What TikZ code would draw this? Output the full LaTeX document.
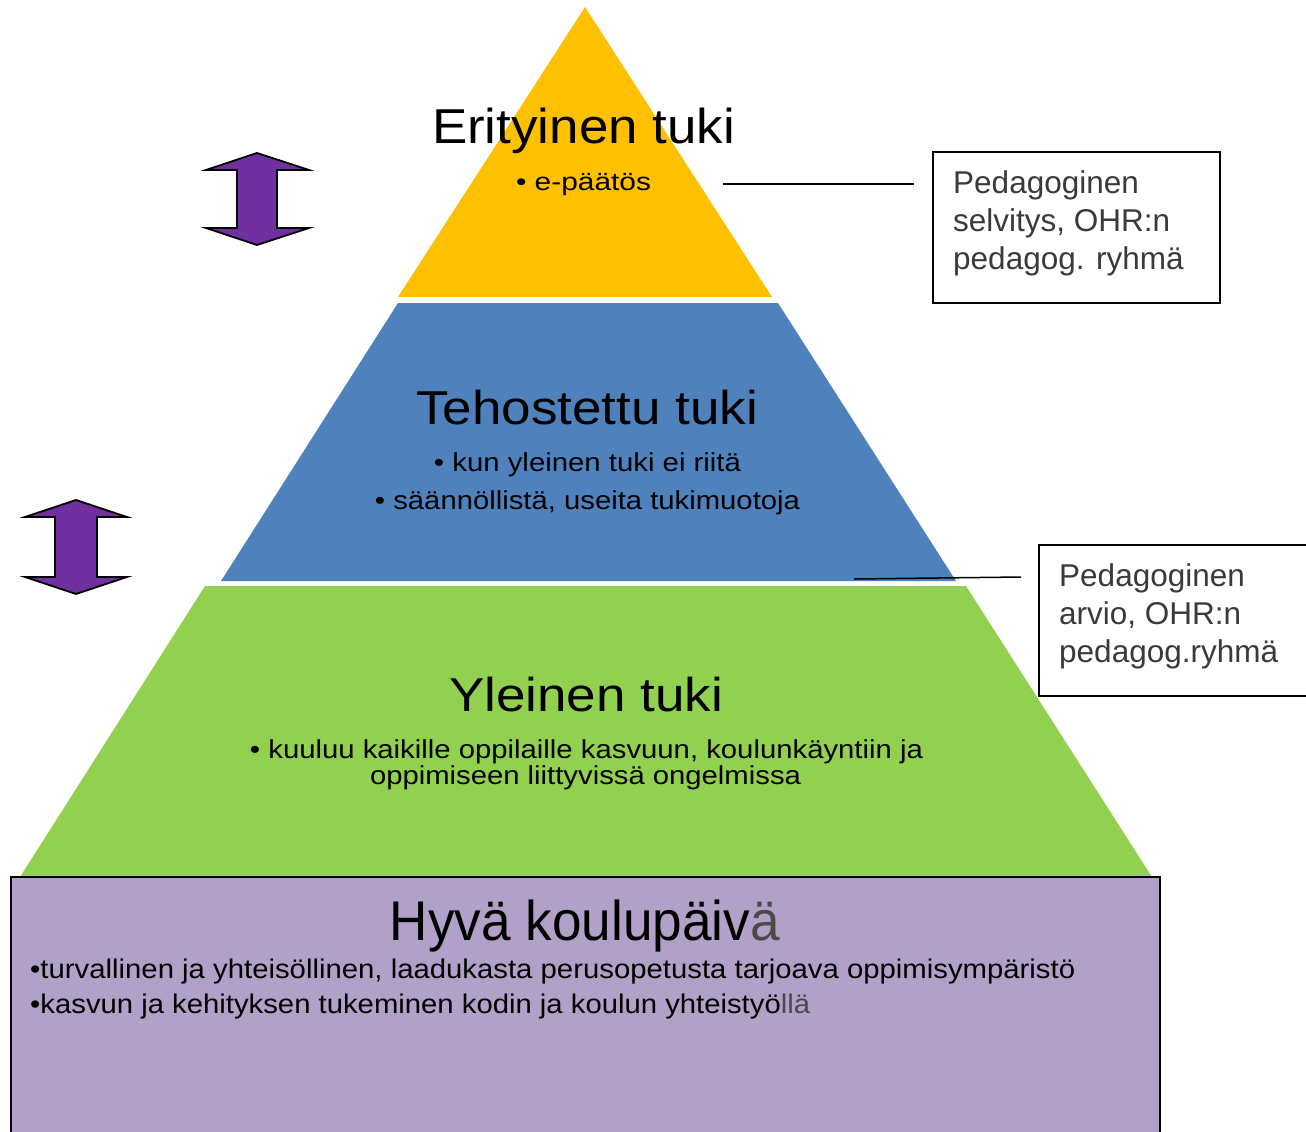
\documentclass[tikz,border=0pt]{standalone}
\usepackage{fontspec}
\setmainfont{Liberation Sans}
\usepackage{graphicx}
\definecolor{tieryellow}{HTML}{FFC000}
\definecolor{tierblue}{HTML}{4F81BD}
\definecolor{tiergreen}{HTML}{92D050}
\definecolor{baselav}{HTML}{B1A0C7}
\definecolor{arrowpurple}{HTML}{7030A0}
\definecolor{boxgray}{HTML}{3A3A3A}
\definecolor{softgray}{HTML}{4A4A4A}
\newcommand\fitw[3]{\resizebox{#1pt}{\height}{\fontsize{#2pt}{#2pt}\selectfont #3}}
\tikzset{
  tier/.style={draw=none},
  lbl/.style={inner sep=0pt, anchor=base, text=black},
  lblleft/.style={inner sep=0pt, anchor=base west, text=black},
  sidebox/.style={draw=black, line width=1.5pt, fill=white, inner sep=0pt},
  sidetext/.style={inner sep=0pt, anchor=base west, text=boxgray, font=\fontsize{31.5pt}{38pt}\selectfont},
  dblarrow/.style={fill=arrowpurple, draw=black, line width=1.8pt, line join=miter},
  leader/.style={draw=black, line width=1.5pt},
}
\begin{document}
\begin{tikzpicture}[x=1pt,y=-1pt]
\useasboundingbox (0,0) rectangle (1306,1132);
% tiers
\fill[tieryellow] (585,7) -- (772,297) -- (398,297) -- cycle;
\fill[tierblue] (398,303) -- (778,303) -- (956,581) -- (221,581) -- cycle;
\fill[tiergreen] (205,586) -- (966,586) -- (1152,877) -- (20,877) -- cycle;
\fill[baselav] (11,877) rectangle (1160,1132);
\draw[line width=1.5pt] (11,1134) -- (11,877) -- (1160,877) -- (1160,1134);
% titles
\node[lbl] (t1) at (583.5,143) {\fitw{303}{49}{Erityinen tuki}};
\node[lbl] (b1) at (583.5,190) {\fitw{135}{25}{\textbullet\ e-päätös}};
\node[lbl] (t2) at (587,424) {\fitw{342}{47.5}{Tehostettu tuki}};
\node[lbl] (b2) at (587.5,471) {\fitw{307}{26}{\textbullet\ kun yleinen tuki ei riitä}};
\node[lbl] (b3) at (587.5,509) {\fitw{425}{26}{\textbullet\ säännöllistä, useita tukimuotoja}};
\node[lbl] (t3) at (586,711) {\fitw{274}{47.5}{Yleinen tuki}};
\node[lbl] (b4) at (586.5,758) {\fitw{673}{26}{\textbullet\ kuuluu kaikille oppilaille kasvuun, koulunkäyntiin ja}};
\node[lbl] (b5) at (585.5,784) {\fitw{431}{26}{oppimiseen liittyvissä ongelmissa}};
\node[lbl] (t4) at (585,940) {\fitw{390}{56}{Hyvä koulupäiv\textcolor{softgray}{ä}}};
\node[lblleft] (b6) at (30,978) {\fitw{1045}{27}{\textbullet turvallinen ja yhteisöllinen, laadukasta perusopetusta tarjoava oppimisympäristö}};
\node[lblleft] (b7) at (30,1013) {\fitw{780}{27}{\textbullet kasvun ja kehityksen tukeminen kodin ja koulun yhteistyö\textcolor{softgray}{llä}}};
% side boxes
\node[sidebox, minimum width=287pt, minimum height=151pt] (box1) at (1076.5,227.5) {};
\node[sidetext] (box1t) at (953,230) {\begin{tabular}{@{}l@{}}Pedagoginen\\selvitys, OHR:n\\pedagog. ryhmä\end{tabular}};
\fill[white] (1039,545) rectangle (1310,696);
\draw[line width=1.5pt] (1310,545) -- (1039,545) -- (1039,696) -- (1310,696);
\coordinate (box2) at (1039,620);
\node[sidetext] (box2t) at (1059,623) {\begin{tabular}{@{}l@{}}Pedagoginen\\arvio, OHR:n\\pedagog.ryhmä\end{tabular}};
% leaders
\coordinate (l1a) at (723,184);
\coordinate (l1b) at (914,184);
\draw[leader] (l1a) -- (l1b);
\coordinate (l2a) at (854,579);
\coordinate (l2b) at (1021,577);
\draw[leader] (l2a) -- (l2b);
% double arrows
\draw[dblarrow] (257,153) -- (309,170) -- (277,170) -- (277,228) -- (309,228) -- (257,245) -- (206,228) -- (237,228) -- (237,170) -- (206,170) -- cycle;
\draw[dblarrow] (76,500) -- (127,517) -- (97,517) -- (97,577) -- (127,577) -- (76,594) -- (25,577) -- (55,577) -- (55,517) -- (25,517) -- cycle;
\end{tikzpicture}
\end{document}
